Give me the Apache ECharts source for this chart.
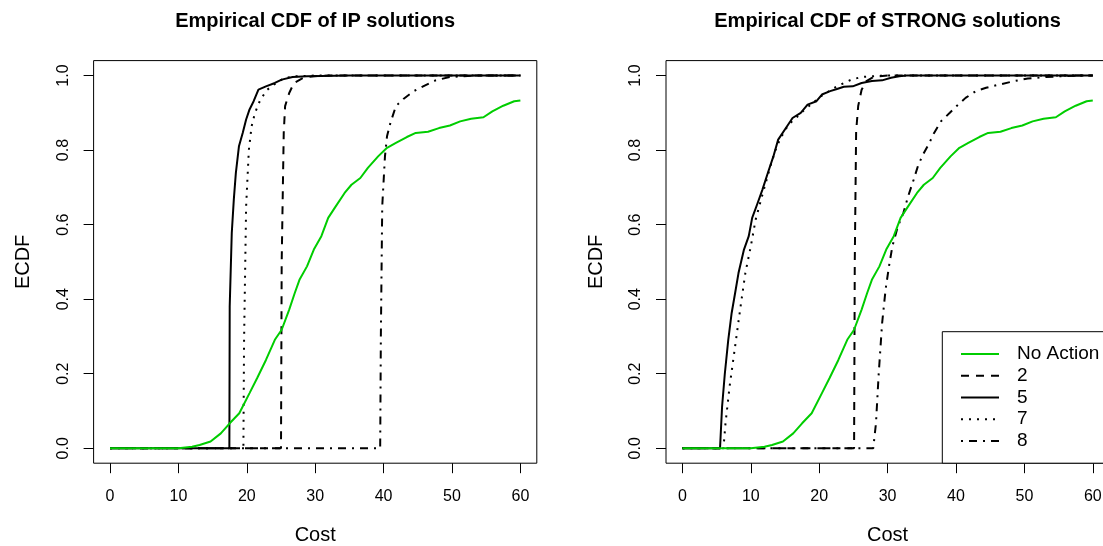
<!DOCTYPE html>
<html>
<head>
<meta charset="utf-8">
<script src="https://cdn.jsdelivr.net/npm/echarts@6/dist/echarts.min.js"></script>
<style>
html,body{margin:0;padding:0;background:#fff;}
#chart{width:1103px;height:546px;}
</style>
</head>
<body>
<div id="chart"></div>
<script>
// ---- data (Cost, ECDF) ----
const xTicks = [0, 10, 20, 30, 40, 50, 60];
const yTicks = [0, 0.2, 0.4, 0.6, 0.8, 1.0];
const legendNames = ['No Action', '2', '5', '7', '8'];
const panelTitles = ['Empirical CDF of IP solutions', 'Empirical CDF of STRONG solutions'];

const noAction = [[0,0],[10,0],[12,0.004],[13.1,0.009],[14.7,0.018],[16.2,0.04],[17.5,0.067],[18.9,0.094],[20.4,0.148],[21.5,0.188],[22.8,0.237],[24.1,0.291],[25.1,0.318],[26.2,0.372],[27.0,0.416],[27.7,0.452],[28.8,0.488],[29.8,0.533],[30.9,0.569],[31.9,0.618],[33.0,0.649],[34.3,0.685],[35.3,0.707],[36.6,0.725],[37.7,0.752],[39.2,0.783],[40.5,0.806],[41.8,0.819],[43.4,0.835],[44.7,0.846],[46.5,0.849],[48.1,0.859],[49.7,0.866],[51.2,0.877],[52.8,0.884],[54.6,0.888],[55.9,0.904],[57.5,0.919],[59.1,0.931],[60,0.933]];

const ip2 = [[0,0],[25.0,0],[25.1,0.5],[25.4,0.846],[25.6,0.918],[26.2,0.953],[26.9,0.98],[28.3,0.994],[29.8,0.998],[32,1],[60,1]];
const ip5 = [[0,0],[17.45,0],[17.5,0.38],[17.8,0.577],[18.1,0.667],[18.4,0.739],[18.85,0.81],[19.4,0.846],[19.9,0.882],[20.4,0.909],[21.0,0.931],[21.7,0.962],[22.8,0.971],[24.1,0.98],[25.1,0.989],[26.7,0.996],[28.8,0.998],[35,1],[60,1]];
const ip7 = [[0,0],[19.5,0],[19.6,0.29],[19.9,0.649],[20.3,0.80],[20.7,0.864],[21.2,0.9],[22.0,0.936],[23.0,0.962],[24.3,0.98],[25.6,0.994],[27.2,0.998],[30,1],[60,1]];
const ip8 = [[0,0],[39.5,0],[39.6,0.3],[39.8,0.649],[40.2,0.783],[40.5,0.837],[41.0,0.873],[41.8,0.918],[42.9,0.937],[44.4,0.958],[46.0,0.973],[47.6,0.987],[49.7,0.996],[51.7,0.998],[54,1],[60,1]];

const strong2 = [[0,0],[25.1,0],[25.2,0.5],[25.4,0.85],[25.7,0.918],[26.2,0.962],[26.9,0.985],[27.9,0.996],[30,1],[60,1]];
const strong5 = [[0,0],[5.5,0],[5.8,0.112],[6.2,0.2],[6.7,0.29],[7.2,0.363],[7.7,0.416],[8.2,0.47],[9.0,0.533],[9.7,0.569],[10.2,0.618],[11.0,0.658],[11.7,0.694],[12.5,0.739],[13.3,0.783],[14.0,0.828],[15.3,0.864],[16.1,0.886],[17.3,0.9],[18.3,0.922],[19.6,0.931],[20.4,0.949],[21.6,0.958],[22.6,0.964],[23.6,0.97],[24.9,0.971],[26.2,0.98],[27.7,0.985],[29.2,0.987],[30.5,0.994],[31.7,0.998],[32.8,1],[60,1]];
const strong7 = [[0,0],[6.0,0],[6.3,0.067],[6.9,0.166],[7.7,0.273],[8.5,0.38],[9.2,0.47],[10.0,0.542],[10.7,0.613],[11.5,0.667],[12.3,0.72],[13.0,0.765],[13.8,0.81],[14.5,0.837],[15.5,0.868],[16.6,0.886],[17.6,0.904],[19.1,0.927],[20.6,0.949],[22.6,0.971],[24.7,0.989],[26.2,0.996],[27.7,0.998],[30,1],[60,1]];
const strong8 = [[0,0],[27.9,0],[28.3,0.067],[28.7,0.2],[29.2,0.336],[29.7,0.425],[30.2,0.488],[30.7,0.542],[31.5,0.595],[32.3,0.631],[33.0,0.676],[33.8,0.72],[34.5,0.761],[35.3,0.792],[36.1,0.819],[36.8,0.846],[37.8,0.877],[39.1,0.9],[40.1,0.918],[41.4,0.94],[42.9,0.958],[44.4,0.967],[46.4,0.976],[48.5,0.985],[50.5,0.992],[53.0,0.996],[55.5,0.998],[58,1],[60,1]];

// ---- styling ----
const FONT = '"Liberation Sans", Arial, Helvetica, sans-serif';
const GREEN = '#00CD00';
const styleFor = {
  'No Action': { color: GREEN, type: 'solid' },
  '2': { color: '#000', type: [8, 7] },
  '5': { color: '#000', type: 'solid' },
  '7': { color: '#000', type: [2, 6] },
  '8': { color: '#000', type: [2, 6, 8, 6] }
};

const panels = [
  { left: 93.6, series: { '2': ip2, '5': ip5, '7': ip7, '8': ip8, 'No Action': noAction } },
  { left: 666, series: { '2': strong2, '5': strong5, '7': strong7, '8': strong8, 'No Action': noAction } }
];
const plotW = 443.2, plotTop = 60.6, plotH = 402.6;

const grids = [], xAxes = [], yAxes = [], series = [], graphics = [];
panels.forEach((p, i) => {
  grids.push({
    left: p.left, top: plotTop, width: plotW, height: plotH,
    show: true, borderColor: '#000', borderWidth: 1, backgroundColor: 'transparent',
    containLabel: false, outerBoundsMode: 'none'
  });
  xAxes.push({
    type: 'value', gridIndex: i, min: -2.4, max: 62.4,
    name: 'Cost', nameLocation: 'middle', nameGap: 62,
    nameTextStyle: { fontFamily: FONT, fontSize: 20, color: '#000' },
    axisLine: { show: false, onZero: false },
    splitLine: { show: false },
    axisTick: { show: true, inside: false, length: 10, customValues: xTicks, lineStyle: { color: '#000', width: 1 } },
    axisLabel: { show: true, customValues: xTicks, margin: 25, fontFamily: FONT, fontSize: 16, color: '#000',
      showMinLabel: true, showMaxLabel: true, hideOverlap: false }
  });
  yAxes.push({
    type: 'value', gridIndex: i, min: -0.04, max: 1.04,
    name: 'ECDF', nameLocation: 'middle', nameGap: 60, nameRotate: 90,
    nameTextStyle: { fontFamily: FONT, fontSize: 20, color: '#000' },
    axisLine: { show: false, onZero: false },
    splitLine: { show: false },
    axisTick: { show: true, inside: false, length: 10, customValues: yTicks, lineStyle: { color: '#000', width: 1 } },
    axisLabel: { show: true, customValues: yTicks, rotate: 90, margin: 22, fontFamily: FONT, fontSize: 16, color: '#000',
      formatter: v => Number(v).toFixed(1), showMinLabel: true, showMaxLabel: true, hideOverlap: false }
  });
  ['2', '5', '7', '8', 'No Action'].forEach(name => {
    const st = styleFor[name];
    series.push({
      type: 'line', name: name, xAxisIndex: i, yAxisIndex: i,
      data: p.series[name], symbol: 'none', showSymbol: false, smooth: false,
      color: st.color,
      lineStyle: { color: st.color, width: 2, type: st.type, cap: 'butt' },
      emphasis: { disabled: true }, silent: true, animation: false
    });
  });
  graphics.push({
    type: 'text', x: p.left + plotW / 2, y: 21,
    style: { text: panelTitles[i], font: 'bold 20px ' + FONT, fill: '#000', textAlign: 'center', textVerticalAlign: 'middle' }
  });
});

const chart = echarts.init(document.getElementById('chart'), null, { renderer: 'canvas' });
chart.setOption({
  backgroundColor: '#fff',
  animation: false,
  grid: grids,
  xAxis: xAxes,
  yAxis: yAxes,
  series: series,
  graphic: graphics,
  legend: {
    data: legendNames,
    orient: 'vertical',
    left: 942.3, top: 331.7,
    padding: [12.8, 60, 12.7, 17.7],
    itemWidth: 38, itemHeight: 14, itemGap: 2.75,
    borderColor: '#000', borderWidth: 1, backgroundColor: '#fff',
    selectedMode: false,
    itemStyle: { opacity: 0 },
    textStyle: { fontFamily: FONT, fontSize: 19, color: '#000', padding: [0, 0, 0, 13], lineHeight: 19 }
  }
});
</script>
</body>
</html>
